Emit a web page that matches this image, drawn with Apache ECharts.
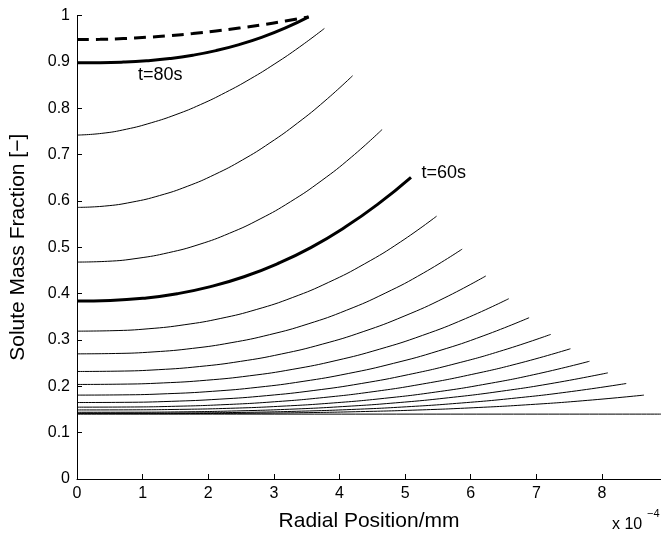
<!DOCTYPE html>
<html>
<head>
<meta charset="utf-8">
<script src="https://cdn.jsdelivr.net/npm/echarts@6/dist/echarts.min.js"></script>
<style>
    html, body { margin: 0; padding: 0; background: #fff; }
    #chart { width: 661px; height: 537px; }
</style>
</head>
<body>
<div id="chart"></div>
<script>
// radial position (x 10^-4 mm) vs solute mass fraction
const dashed = [[0, 0.948], [0.353, 0.9486], [0.706, 0.9503], [1.059, 0.9529], [1.412, 0.9566], [1.765, 0.9611],
    [2.118, 0.9666], [2.471, 0.9729], [2.824, 0.980], [3.177, 0.9881], [3.53, 0.997]];
const t80 = [[0, 0.898], [0.353, 0.8982], [0.706, 0.8995], [1.059, 0.9024], [1.412, 0.9071], [1.765, 0.9143],
    [2.118, 0.9242], [2.471, 0.9372], [2.824, 0.9534], [3.177, 0.9732], [3.53, 0.997]];
const t60 = [[0, 0.384], [0.509, 0.3852], [1.018, 0.3901], [1.527, 0.3998], [2.036, 0.415], [2.545, 0.4363],
    [3.054, 0.4644], [3.563, 0.4993], [4.072, 0.5421], [4.581, 0.5925], [5.09, 0.651]];

const c01 = [[0, 0.742], [0.377, 0.7457], [0.754, 0.7547], [1.131, 0.7685], [1.508, 0.7862], [1.885, 0.808],
    [2.262, 0.8338], [2.639, 0.863], [3.016, 0.8959], [3.393, 0.9322], [3.77, 0.972]];
const c02 = [[0, 0.586], [0.42, 0.5888], [0.84, 0.5974], [1.26, 0.6116], [1.68, 0.6314], [2.10, 0.657],
    [2.52, 0.6882], [2.94, 0.7252], [3.36, 0.7678], [3.78, 0.816], [4.20, 0.870]];
const c03 = [[0, 0.468], [0.465, 0.4697], [0.93, 0.4763], [1.395, 0.4883], [1.86, 0.506], [2.325, 0.5303],
    [2.79, 0.561], [3.255, 0.5984], [3.72, 0.643], [4.185, 0.6948], [4.65, 0.754]];
const c04 = [[0, 0.319], [0.548, 0.320], [1.096, 0.3242], [1.644, 0.3329], [2.192, 0.3465], [2.74, 0.3659],
    [3.288, 0.3917], [3.836, 0.4244], [4.384, 0.4643], [4.932, 0.5117], [5.48, 0.567]];
const c05 = [[0, 0.270], [0.587, 0.2708], [1.174, 0.2743], [1.761, 0.2818], [2.348, 0.294], [2.935, 0.3114],
    [3.522, 0.3346], [4.109, 0.3642], [4.696, 0.4009], [5.283, 0.4447], [5.87, 0.496]];
const c06 = [[0, 0.232], [0.623, 0.2327], [1.246, 0.2359], [1.869, 0.2427], [2.492, 0.2538], [3.115, 0.2697],
    [3.738, 0.2909], [4.361, 0.3179], [4.984, 0.3513], [5.607, 0.3912], [6.23, 0.438]];
const c07 = [[0, 0.204], [0.658, 0.2046], [1.316, 0.2073], [1.974, 0.2131], [2.632, 0.2227], [3.29, 0.2367],
    [3.948, 0.2556], [4.606, 0.2799], [5.264, 0.3098], [5.922, 0.3461], [6.58, 0.389]];
const c08 = [[0, 0.181], [0.689, 0.1815], [1.378, 0.184], [2.067, 0.1892], [2.756, 0.1979], [3.445, 0.2106],
    [4.134, 0.2276], [4.823, 0.2495], [5.512, 0.2765], [6.201, 0.3093], [6.89, 0.348]];
const c09 = [[0, 0.165], [0.722, 0.1654], [1.444, 0.1676], [2.166, 0.1722], [2.888, 0.1798], [3.61, 0.191],
    [4.332, 0.206], [5.054, 0.2253], [5.776, 0.2491], [6.498, 0.2779], [7.22, 0.312]];
const c10 = [[0, 0.155], [0.752, 0.1553], [1.504, 0.1569], [2.256, 0.1605], [3.008, 0.1666], [3.76, 0.1758],
    [4.512, 0.1884], [5.264, 0.2049], [6.016, 0.2256], [6.768, 0.2508], [7.52, 0.281]];
const c11 = [[0, 0.149], [0.781, 0.1492], [1.562, 0.1502], [2.343, 0.1526], [3.124, 0.1571], [3.905, 0.1641],
    [4.686, 0.1741], [5.467, 0.1876], [6.248, 0.2052], [7.029, 0.2272], [7.81, 0.254]];
const c12 = [[0, 0.144], [0.809, 0.1441], [1.618, 0.1449], [2.427, 0.1469], [3.236, 0.1505], [4.045, 0.1562],
    [4.854, 0.1643], [5.663, 0.1753], [6.472, 0.1895], [7.281, 0.2073], [8.09, 0.229]];
const c13 = [[0, 0.142], [0.837, 0.1421], [1.674, 0.1425], [2.511, 0.1437], [3.348, 0.1461], [4.185, 0.150],
    [5.022, 0.1558], [5.859, 0.164], [6.696, 0.1748], [7.533, 0.1887], [8.37, 0.206]];
const c14 = [[0, 0.141], [0.864, 0.141], [1.728, 0.1412], [2.592, 0.1418], [3.456, 0.1431], [4.32, 0.1454],
    [5.184, 0.1488], [6.048, 0.1538], [6.912, 0.1606], [7.776, 0.1696], [8.64, 0.181]];
const initial = [[0, 0.14], [8.9, 0.14]];

const thinCurves = [c01, c02, c03, c04, c05, c06, c07, c08, c09, c10, c11, c12, c13, c14, initial];

const curveLabels = [[1.27, 0.872, 't=80s'], [5.59, 0.660, 't=60s']];

const xTicks = [0, 1, 2, 3, 4, 5, 6, 7, 8];

const FONT = '"Liberation Sans", Arial, Helvetica, sans-serif';

function lineSeries(data, width, type) {
    return {
        type: 'line',
        data: data,
        showSymbol: false,
        smooth: true,
        silent: true,
        lineStyle: { color: '#000', width: width, type: type || 'solid' }
    };
}

const chart = echarts.init(document.getElementById('chart'));

const series = thinCurves.map(c => lineSeries(c, 1));
series.push(lineSeries(t60, 3));
series.push(lineSeries(t80, 3));
series.push(lineSeries(dashed, 3, [12, 7]));
series.push({
    type: 'scatter',
    data: curveLabels,
    symbolSize: 0,
    silent: true,
    itemStyle: { color: '#000', opacity: 1 },
    label: {
        show: true,
        position: 'inside',
        formatter: p => p.data[2],
        color: '#000',
        opacity: 1,
        textBorderWidth: 0,
        fontFamily: FONT,
        fontSize: 18
    }
});

const axisText = { color: '#000', fontFamily: FONT, fontSize: 16 };

chart.setOption({
    animation: false,
    backgroundColor: '#fff',
    grid: { left: 74, right: 0, top: 15.5, bottom: 58 },
    xAxis: {
        type: 'value',
        min: 0,
        max: 8.9,
        interval: 1,
        name: 'Radial Position/mm',
        nameLocation: 'middle',
        nameGap: 32,
        nameTextStyle: { color: '#000', fontFamily: FONT, fontSize: 21 },
        axisLine: { lineStyle: { color: '#000', width: 1 } },
        axisTick: { inside: true, length: 5, lineStyle: { color: '#000' } },
        axisLabel: Object.assign({
            margin: 7,
            showMaxLabel: false,
            formatter: v => xTicks.indexOf(v) >= 0 ? String(v) : ''
        }, axisText),
        splitLine: { show: false }
    },
    yAxis: {
        type: 'value',
        min: 0,
        max: 1,
        interval: 0.1,
        name: 'Solute Mass Fraction [\u2212]',
        nameLocation: 'middle',
        nameRotate: 90,
        nameGap: 48,
        nameTextStyle: { color: '#000', fontFamily: FONT, fontSize: 21 },
        axisLine: { show: true, lineStyle: { color: '#000', width: 1 } },
        axisTick: { inside: true, length: 5, lineStyle: { color: '#000' } },
        axisLabel: Object.assign({ margin: 7 }, axisText),
        splitLine: { show: false }
    },
    graphic: [
        {
            type: 'text',
            left: 612,
            top: 517,
            style: { text: 'x 10', fill: '#000', font: '16px ' + FONT }
        },
        {
            type: 'text',
            left: 647,
            top: 508,
            style: { text: '\u22124', fill: '#000', font: '11px ' + FONT }
        }
    ],
    series: series
});
</script>
</body>
</html>
